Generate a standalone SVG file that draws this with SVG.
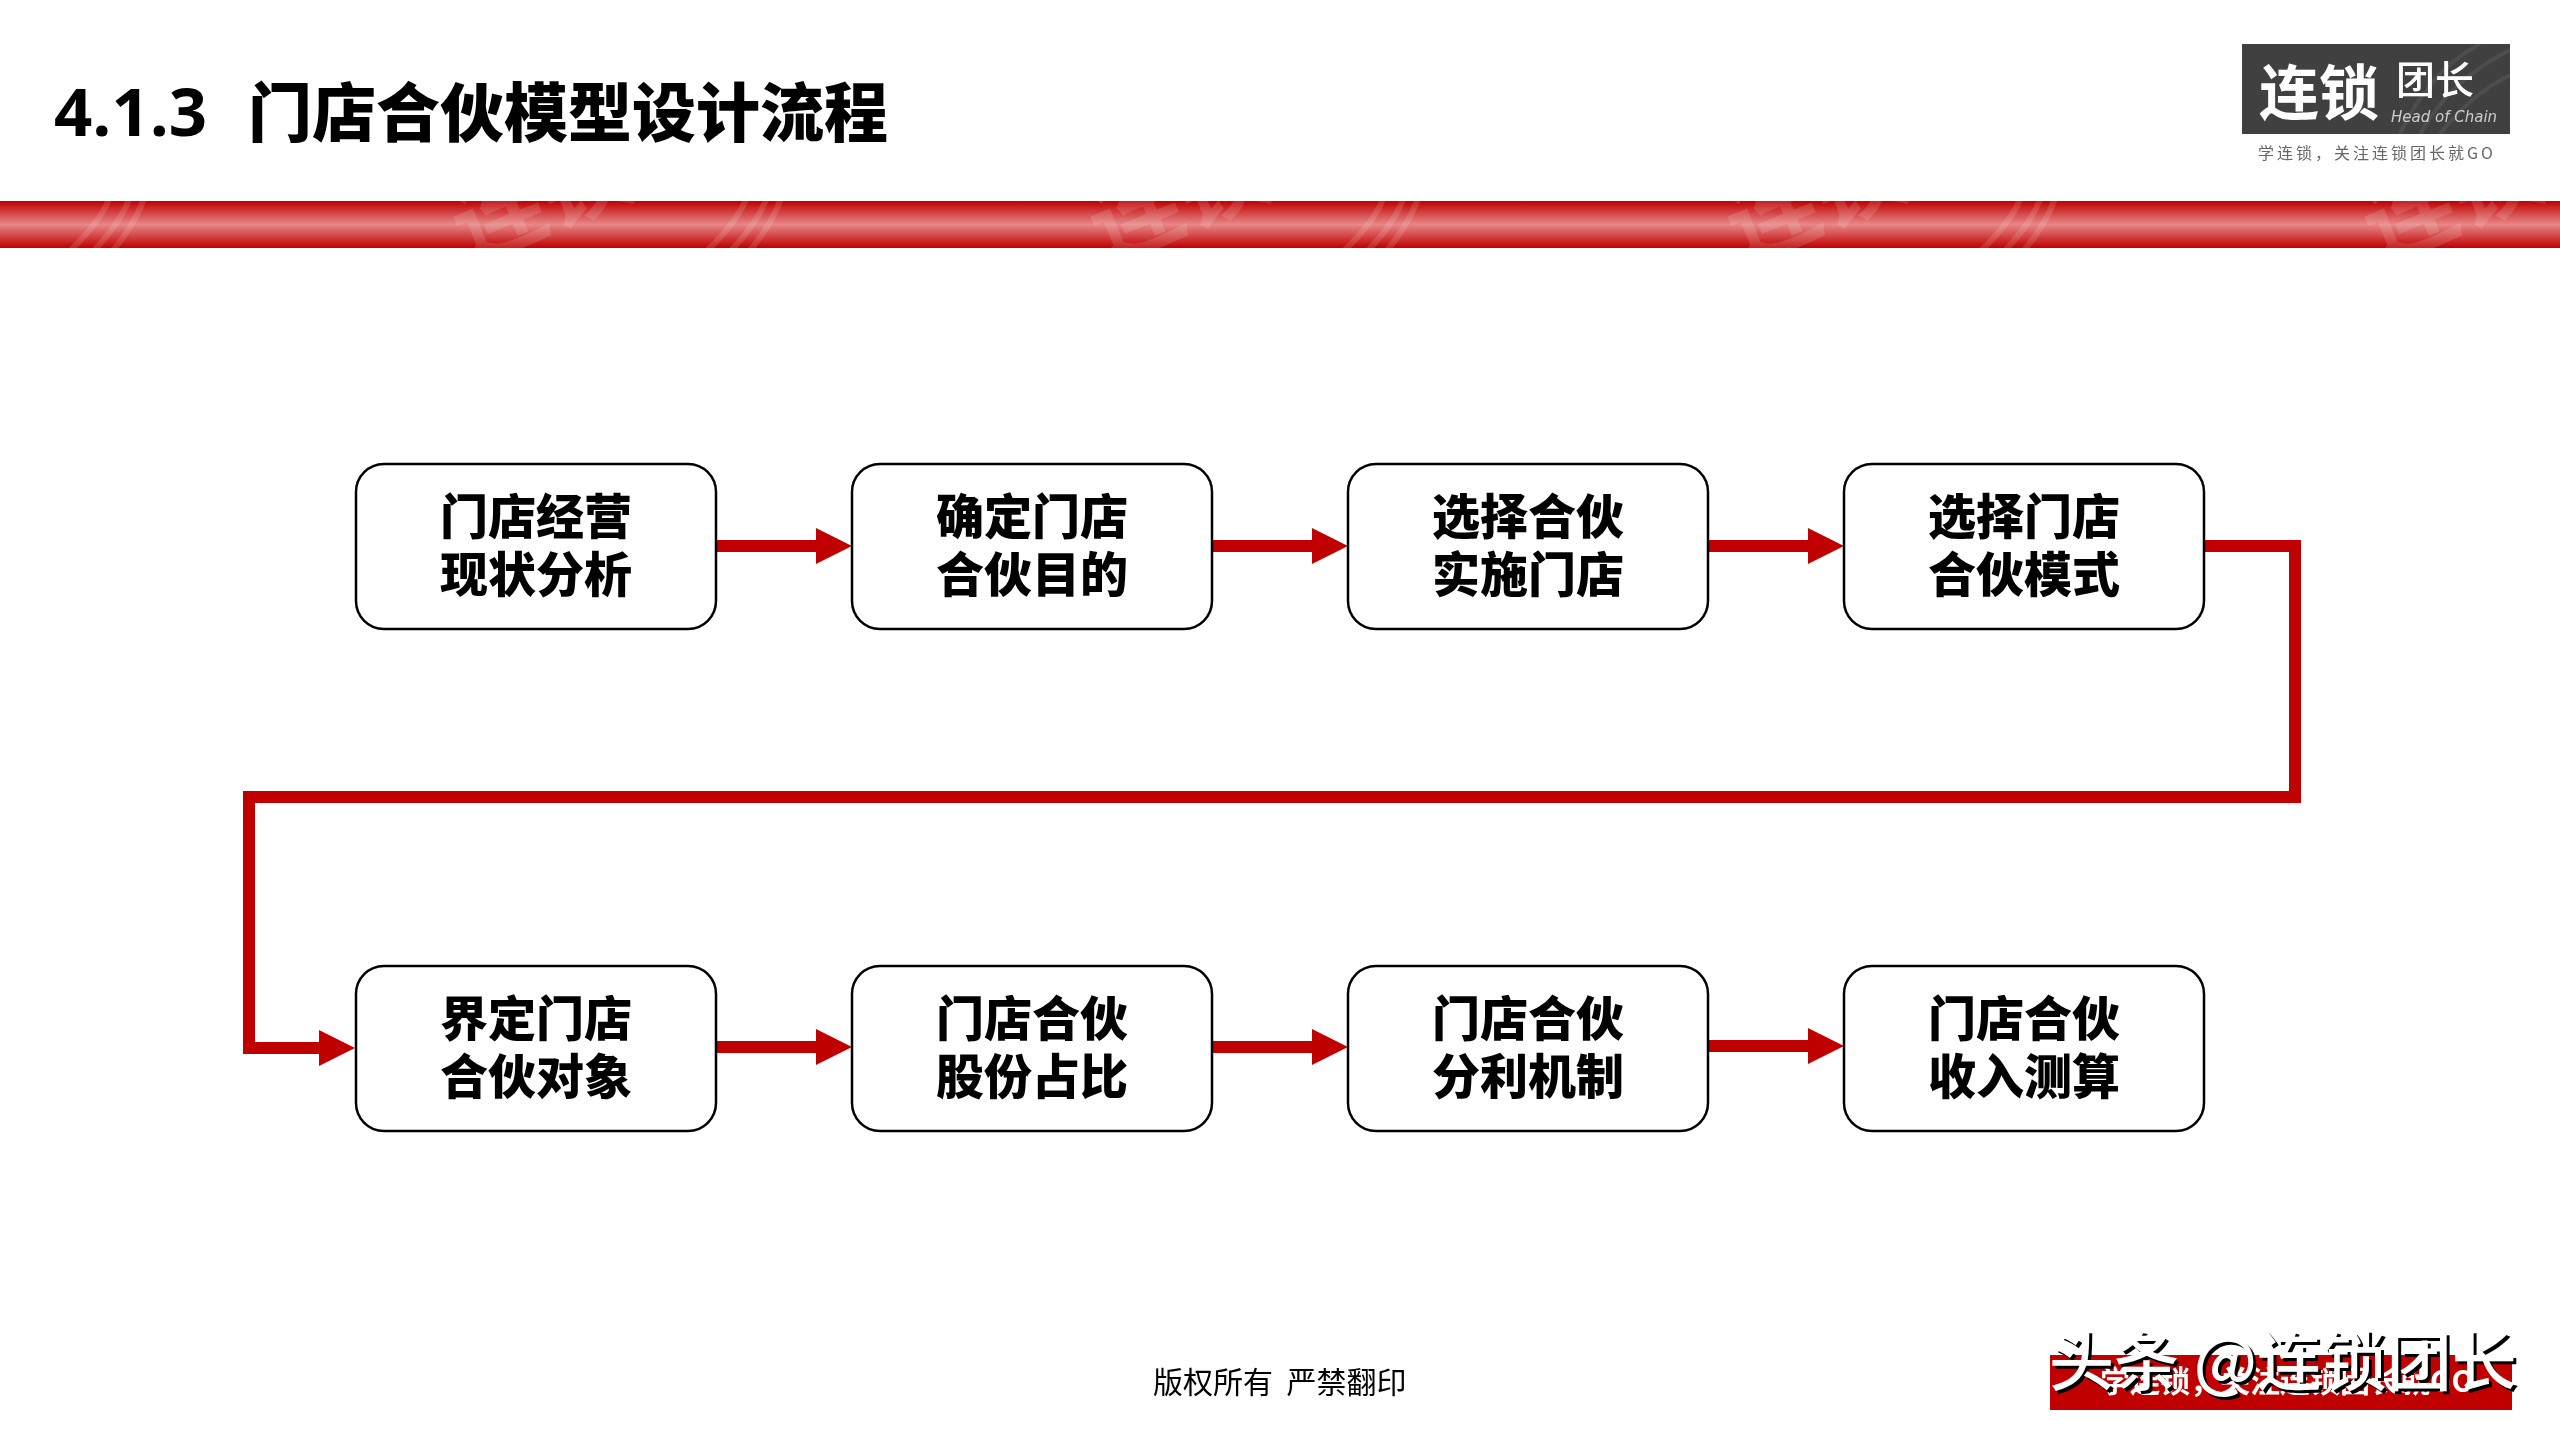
<svg xmlns="http://www.w3.org/2000/svg" xmlns:xlink="http://www.w3.org/1999/xlink" width="2560" height="1440" viewBox="0 0 2560 1440">
<style>
text{font-family:"Noto Sans CJK SC","Noto Sans",sans-serif}
.box{fill:#fff;stroke:#000;stroke-width:2.5}
.lbl{font-size:48px;font-weight:900;fill:#000;text-anchor:middle}
.con{fill:none;stroke:#c00000;stroke-width:12;stroke-linejoin:miter}
.wm{font-size:92px;font-weight:700;fill:#fff}
.arc{fill:none;stroke:#fff;stroke-width:6}
</style>
<defs>
<linearGradient id="band" x1="0" y1="0" x2="0" y2="1">
<stop offset="0" stop-color="#c00000"/><stop offset="0.5" stop-color="#e78787"/><stop offset="1" stop-color="#c00000"/>
</linearGradient>
<marker id="head" markerUnits="userSpaceOnUse" markerWidth="37" markerHeight="37" refX="0" refY="18" orient="auto" overflow="visible">
<path d="M0 0L36 18L0 36Z" fill="#c00000"/>
</marker>
<clipPath id="bandclip"><rect x="0" y="201" width="2560" height="47"/></clipPath>
<clipPath id="logoclip"><rect x="2242" y="44" width="268" height="90"/></clipPath>
<g id="tile">
<path class="arc" d="M60 260Q105 220 112 190M85 260Q125 220 132 190M105 260Q140 220 146 190"/>
<text class="wm" x="0" y="0" transform="translate(468 262) rotate(-22)">连锁</text>
</g>
</defs>
<rect width="2560" height="1440" fill="#fff"/>
<rect id="banner" x="0" y="201" width="2560" height="47" fill="url(#band)"/>
<g clip-path="url(#bandclip)" opacity="0.13">
<use xlink:href="#tile" href="#tile" x="0"/><use xlink:href="#tile" href="#tile" x="637"/><use xlink:href="#tile" href="#tile" x="1274"/><use xlink:href="#tile" href="#tile" x="1911"/><use xlink:href="#tile" href="#tile" x="2548"/>
</g>
<text id="title" x="54" y="136" font-size="67" font-weight="700" fill="#000" style="font-family:'Open Sans','Noto Sans',sans-serif">4.1.3</text>
<text id="title-cn" x="248" y="136" font-size="64" font-weight="900" fill="#000">门店合伙模型设计流程</text>
<g id="logo">
<rect x="2242" y="44" width="268" height="90" fill="#404040"/>
<g clip-path="url(#logoclip)"><path d="M2400 134Q2430 70 2480 44M2420 134Q2450 80 2510 50M2440 134Q2470 95 2510 75" fill="none" stroke="#4d4d4d" stroke-width="4"/></g>
<text x="2259" y="115" font-size="60" font-weight="700" fill="#fff">连锁</text>
<text x="2396" y="94" font-size="39" font-weight="500" fill="#fff">团长</text>
<text x="2391" y="122" font-size="15" font-style="italic" fill="#ccc" style="font-family:'DejaVu Sans',sans-serif">Head of Chain</text>
<text x="2258" y="159" font-size="16" font-weight="400" fill="#666" letter-spacing="3">学连锁，关注连锁团长就GO</text>
</g>
<g id="connectors">
<path class="con" d="M716 546H816" marker-end="url(#head)"/>
<path class="con" d="M1212 546H1312" marker-end="url(#head)"/>
<path class="con" d="M1708 546H1808" marker-end="url(#head)"/>
<path class="con" d="M2204 546H2295V797H249V1048H319" marker-end="url(#head)"/>
<path class="con" d="M716 1047H816" marker-end="url(#head)"/>
<path class="con" d="M1212 1047H1312" marker-end="url(#head)"/>
<path class="con" d="M1708 1046H1808" marker-end="url(#head)"/>
</g>
<g id="n1"><rect class="box" x="356" y="464" width="360" height="165" rx="28"/><text class="lbl" x="536" y="534">门店经营</text><text class="lbl" x="536" y="592">现状分析</text></g>
<g id="n2"><rect class="box" x="852" y="464" width="360" height="165" rx="28"/><text class="lbl" x="1032" y="534">确定门店</text><text class="lbl" x="1032" y="592">合伙目的</text></g>
<g id="n3"><rect class="box" x="1348" y="464" width="360" height="165" rx="28"/><text class="lbl" x="1528" y="534">选择合伙</text><text class="lbl" x="1528" y="592">实施门店</text></g>
<g id="n4"><rect class="box" x="1844" y="464" width="360" height="165" rx="28"/><text class="lbl" x="2024" y="534">选择门店</text><text class="lbl" x="2024" y="592">合伙模式</text></g>
<g id="n5"><rect class="box" x="356" y="966" width="360" height="165" rx="28"/><text class="lbl" x="536" y="1036">界定门店</text><text class="lbl" x="536" y="1094">合伙对象</text></g>
<g id="n6"><rect class="box" x="852" y="966" width="360" height="165" rx="28"/><text class="lbl" x="1032" y="1036">门店合伙</text><text class="lbl" x="1032" y="1094">股份占比</text></g>
<g id="n7"><rect class="box" x="1348" y="966" width="360" height="165" rx="28"/><text class="lbl" x="1528" y="1036">门店合伙</text><text class="lbl" x="1528" y="1094">分利机制</text></g>
<g id="n8"><rect class="box" x="1844" y="966" width="360" height="165" rx="28"/><text class="lbl" x="2024" y="1036">门店合伙</text><text class="lbl" x="2024" y="1094">收入测算</text></g>
<text id="copyright" x="1153" y="1393" font-size="30" fill="#000" xml:space="preserve">版权所有  严禁翻印</text>
<g id="footer">
<rect x="2050" y="1355" width="462" height="55" fill="#c00000"/>
<text x="2100" y="1392" font-size="30" font-weight="700" fill="#fff">学连锁，关注连锁团长就GO</text>
<text x="2052" y="1388" font-size="65" font-weight="500" fill="#000">头条 @连锁团长</text>
<text x="2049" y="1385" font-size="65" font-weight="500" fill="#fff">头条 @连锁团长</text>
</g>
</svg>
